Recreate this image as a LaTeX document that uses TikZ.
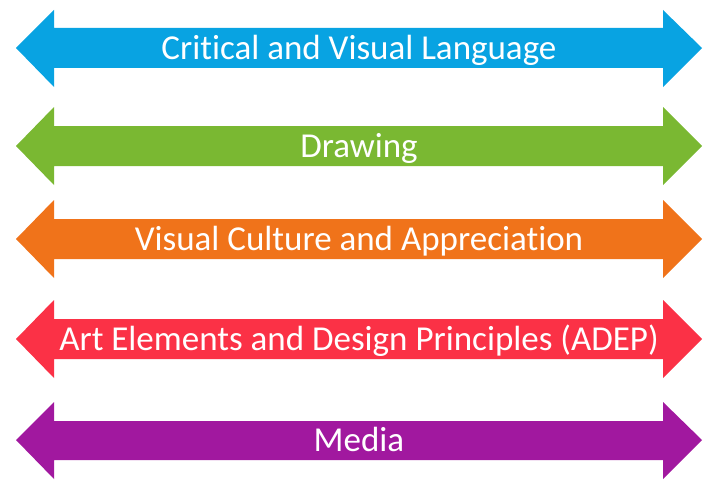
\documentclass[tikz,border=0pt]{standalone}
\usepackage{fontspec}
\setmainfont{Carlito}[Ligatures=NoCommon]
\definecolor{cblue}{RGB}{8,163,226}
\definecolor{cgreen}{RGB}{122,184,50}
\definecolor{corange}{RGB}{240,115,26}
\definecolor{cred}{RGB}{251,49,70}
\definecolor{cpurple}{RGB}{161,24,159}
\tikzset{
  dblarrow/.style={fill=#1, draw=none},
  lbl/.style={text=white, font=\fontsize{35}{40}\selectfont, inner sep=0pt, anchor=base}
}
\begin{document}
\begin{tikzpicture}[x=1pt,y=-1pt]
\useasboundingbox (0,0) rectangle (712,495);
\fill[dblarrow=cblue] (16,48) -- (54,10) -- (54,28) -- (663,28) -- (663,10) -- (702,48) -- (663,87) -- (663,68) -- (54,68) -- (54,87) -- cycle;
\node[lbl] (t1) at (359,59.5) {Critical and Visual Language};
\fill[dblarrow=cgreen] (16,146) -- (54,107) -- (54,126) -- (663,126) -- (663,107) -- (702,146) -- (663,185) -- (663,166) -- (54,166) -- (54,185) -- cycle;
\node[lbl] (t2) at (359,157.5) {Drawing};
\fill[dblarrow=corange] (16,239) -- (54,200) -- (54,219) -- (663,219) -- (663,200) -- (702,239) -- (663,278) -- (663,259) -- (54,259) -- (54,278) -- cycle;
\node[lbl] (t3) at (359,250.5) {Visual Culture and Appreciation};
\fill[dblarrow=cred] (16,339) -- (54,300) -- (54,319) -- (663,319) -- (663,300) -- (702,339) -- (663,378) -- (663,359) -- (54,359) -- (54,378) -- cycle;
\node[lbl] (t4) at (359,350.5) {Art Elements and Design Principles (ADEP)};
\fill[dblarrow=cpurple] (16,440) -- (54,402) -- (54,421) -- (663,421) -- (663,402) -- (702,440) -- (663,479) -- (663,460) -- (54,460) -- (54,479) -- cycle;
\node[lbl] (t5) at (359,451.5) {Media};
\end{tikzpicture}
\end{document}
